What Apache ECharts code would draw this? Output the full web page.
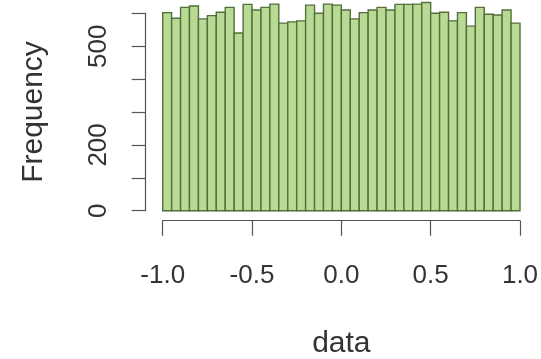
<!DOCTYPE html>
<html>
<head>
<meta charset="utf-8">
<script src="https://cdn.jsdelivr.net/npm/echarts@6/dist/echarts.min.js"></script>
<style>html,body{margin:0;padding:0;background:#fff}#c{width:541px;height:359px}</style>
</head>
<body>
<div id="c"></div>
<script>
const binWidth = 0.05;
const binStarts = [-1.00,-0.95,-0.90,-0.85,-0.80,-0.75,-0.70,-0.65,-0.60,-0.55,
  -0.50,-0.45,-0.40,-0.35,-0.30,-0.25,-0.20,-0.15,-0.10,-0.05,
  0.00,0.05,0.10,0.15,0.20,0.25,0.30,0.35,0.40,0.45,
  0.50,0.55,0.60,0.65,0.70,0.75,0.80,0.85,0.90,0.95];
const counts = [602,585,618,622,583,593,603,618,540,627,
  610,618,628,570,574,577,625,600,628,625,
  610,583,602,610,618,610,627,627,628,633,
  600,603,577,602,561,618,597,595,610,570];
const xTickLabels = ['-1.0','-0.5','0.0','0.5','1.0'];
const xTickValues = [-1, -0.5, 0, 0.5, 1];
const yLabelValues = [0, 200, 500];
const xTitle = 'data';
const yTitle = 'Frequency';

const chart = echarts.init(document.getElementById('c'), null, {renderer: 'canvas'});
const data = binStarts.map((s, i) => [s, s + binWidth, counts[i]]);
const txt = '#333';
const axisCol = '#555';
chart.setOption({
  animation: false,
  grid: {left: 162.7, right: 21, top: 13.3, bottom: 148.3, outerBoundsMode: 'none', containLabel: false},
  xAxis: {
    type: 'value', min: -1, max: 1, interval: 0.5, offset: 10,
    name: xTitle, nameLocation: 'middle', nameGap: 108,
    nameTextStyle: {fontFamily: 'Liberation Sans', fontSize: 30, color: txt},
    axisLine: {show: true, onZero: false, lineStyle: {color: axisCol, width: 1.2}},
    axisTick: {show: true, length: 15, lineStyle: {color: axisCol, width: 1.2}},
    splitLine: {show: false},
    axisLabel: {
      margin: 42, fontFamily: 'Liberation Sans', fontSize: 26, color: txt,
      formatter: v => { const i = xTickValues.findIndex(t => Math.abs(t - v) < 1e-9); return i >= 0 ? xTickLabels[i] : ''; }
    }
  },
  yAxis: {
    type: 'value', min: 0, max: 600, interval: 100, offset: 17,
    name: yTitle, nameLocation: 'middle', nameGap: 97,
    nameTextStyle: {fontFamily: 'Liberation Sans', fontSize: 30, color: txt},
    axisLine: {show: true, onZero: false, lineStyle: {color: axisCol, width: 1.2}},
    axisTick: {show: true, length: 14, lineStyle: {color: axisCol, width: 1.2}},
    splitLine: {show: false},
    axisLabel: {
      rotate: 90, margin: 47, fontFamily: 'Liberation Sans', fontSize: 26, color: txt,
      verticalAlign: 'middle', align: 'center',
      formatter: v => yLabelValues.indexOf(v) >= 0 ? String(v) : ''
    }
  },
  series: [{
    type: 'custom', clip: false,
    data: data,
    encode: {x: [0, 1], y: 2},
    renderItem: function (params, api) {
      const p0 = api.coord([api.value(0), api.value(2)]);
      const p1 = api.coord([api.value(1), 0]);
      return {
        type: 'rect',
        shape: {x: p0[0], y: p0[1], width: p1[0] - p0[0], height: p1[1] - p0[1]},
        style: {fill: '#b8da94', stroke: '#52703c', lineWidth: 1.4}
      };
    }
  }]
});
</script>
</body>
</html>
